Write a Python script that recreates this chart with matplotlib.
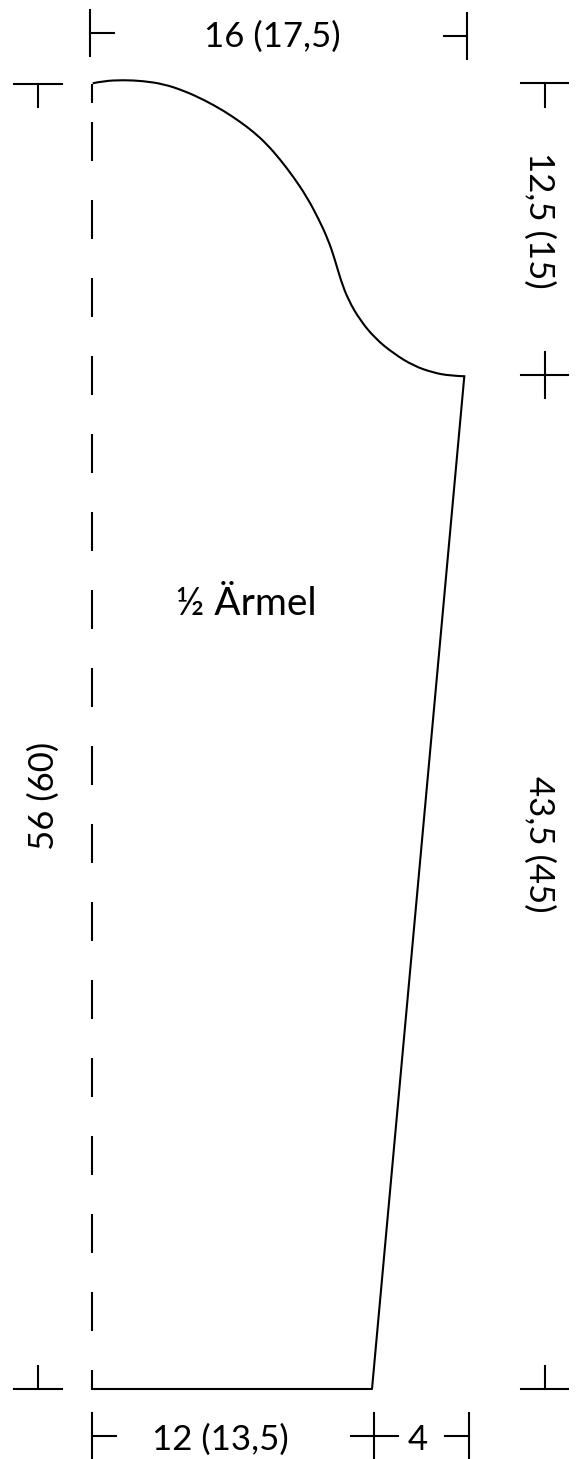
"""
Half-sleeve schematic with measurements (cm).
"""

import matplotlib
matplotlib.use("Agg")
import matplotlib.pyplot as plt
from matplotlib.patches import PathPatch
from matplotlib.path import Path

WIDTH = 576
HEIGHT = 1459
LINE_W = 1.5
FONT = "Lato"
LABEL_SIZE = 25
TITLE_SIZE = 28

# outline of the sleeve (pixels)
curve_x = [92.7, 103.3, 123.3, 143.3, 163.3, 183.3, 203.3, 223.3, 240, 253.3, 266.7,
           280, 293.3, 306.7, 318.3, 328.3, 335, 340.7, 348.3, 360, 375, 393.3, 413.3,
           433.3, 450, 464.3]
curve_y = [83.3, 81, 80, 81, 84, 90.5, 99.5, 110.5, 121.7, 131.7, 144,
           159.3, 176.7, 196.7, 218.3, 240, 260, 280, 300, 320, 338.3, 353.3, 365.7,
           372.7, 375.7, 376.3]
side_x = [464.3, 372, 92]
side_y = [376.3, 1389, 1389]

# dashed fold line
fold_x = 92
fold_top = [84, 122, 200, 278, 356, 434, 512, 590, 668, 746, 824, 902, 980, 1058,
            1136, 1214, 1292, 1370]
fold_bottom = [103, 161, 239, 317, 395, 473, 551, 629, 707, 785, 863, 941, 1019, 1097,
               1175, 1253, 1331, 1389]

# dimension marks: (x1, y1, x2, y2)
h_marks = [
    (90, 33, 114, 33), (444, 36, 467, 36),
    (14, 84, 62, 84), (521, 83, 568, 83), (521, 375, 568, 375),
    (14, 1389, 62, 1389), (521, 1389, 568, 1389),
    (92, 1436, 116, 1436), (351, 1436, 398, 1436), (445, 1436, 469, 1436),
]
v_marks = [
    (90, 10, 90, 56), (467, 13, 467, 59),
    (38, 84, 38, 107), (545, 83, 545, 107), (545, 352, 545, 398),
    (38, 1366, 38, 1389), (545, 1366, 545, 1389),
    (92, 1413, 92, 1459), (374, 1413, 374, 1459), (469, 1413, 469, 1459),
]

# labels: text, x, y, rotation
labels = [
    ("16 (17,5)", 272, 37, 0),
    ("12 (13,5)", 220, 1440, 0),
    ("4", 418, 1440, 0),
    ("12,5 (15)", 539, 220, 270),
    ("43,5 (45)", 539, 844, 270),
    ("56 (60)", 44, 796, 90),
]
title = "½ Ärmel"
title_x = 246
title_y = 604


def smooth_path(xs, ys):
    # quadratic spline, the read points act as control points
    pts = list(zip(xs, ys))
    verts = [pts[0]]
    codes = [Path.MOVETO]
    for i in range(1, len(pts) - 1):
        end = pts[i + 1] if i == len(pts) - 2 else (
            (pts[i][0] + pts[i + 1][0]) / 2, (pts[i][1] + pts[i + 1][1]) / 2)
        verts += [pts[i], end]
        codes += [Path.CURVE3, Path.CURVE3]
    return Path(verts, codes)


fig = plt.figure(figsize=(WIDTH / 100, HEIGHT / 100), dpi=100)
ax = fig.add_axes([0, 0, 1, 1])
ax.set_xlim(0, WIDTH)
ax.set_ylim(HEIGHT, 0)
ax.axis("off")

ax.add_patch(PathPatch(smooth_path(curve_x, curve_y), fill=False, edgecolor="black", lw=LINE_W))
ax.plot(side_x, side_y, color="black", lw=LINE_W)
ax.vlines([fold_x] * len(fold_top), fold_top, fold_bottom, color="black", lw=LINE_W)

for x1, y1, x2, y2 in h_marks + v_marks:
    ax.plot([x1, x2], [y1, y2], color="black", lw=LINE_W)

for text, x, y, rot in labels:
    ax.text(x, y, text, rotation=rot, ha="center", va="center", fontsize=LABEL_SIZE,
            family=FONT, color="black")
ax.text(title_x, title_y, title, ha="center", va="center", fontsize=TITLE_SIZE,
        family=FONT, color="black")

fig.savefig("out.png", dpi=100)
